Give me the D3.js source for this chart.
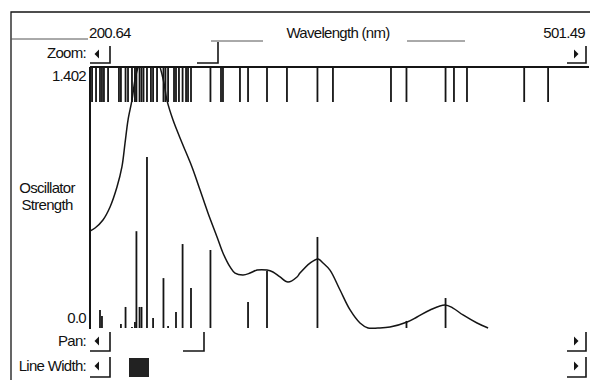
<!DOCTYPE html>
<html>
<head>
<meta charset="utf-8">
<script src="https://cdn.jsdelivr.net/npm/d3@7"></script>
<style>
  html, body { margin: 0; padding: 0; background: #fff; }
  svg text { font-family: "Liberation Sans", Arial, sans-serif; font-size: 15px; letter-spacing: -0.7px; fill: #111; }
</style>
</head>
<body>
<svg id="chart" width="590" height="380"></svg>
<script>
// transitions: wavelength (nm) and oscillator strength
const transWl = [200.9, 201.9, 204.3, 206.7, 207.9, 209.1, 211.6, 218.2, 219.4, 222.2, 223.7, 226.1, 227.9, 228.8,
                 230.7, 231.9, 233.1, 235.2, 237.6, 238.9, 241.3, 245.2, 246.4, 248.0, 251.6, 252.8, 254.6, 256.8,
                 258.9, 260.1, 261.9, 273.7, 280.1, 281.3, 291.6, 296.5, 308.0, 320.1, 338.6, 348.0, 383.2, 392.6,
                 416.3, 421.4, 429.3, 464.0, 478.5];
const transF  = [0, 0, 0, 0.097, 0.064, 0, 0, 0, 0.021, 0.113, 0, 0.005, 0.032, 0.52,
                 0.113, 0.113, 0, 0.918, 0, 0.054, 0, 0.268, 0, 0.011, 0, 0.086, 0, 0.451,
                 0, 0, 0.215, 0.419, 0, 0, 0, 0.14, 0.306, 0, 0.489, 0, 0, 0.038,
                 0.161, 0, 0, 0, 0];

// broadened spectrum envelope
const curveWl = [200.64, 203.7, 208.5, 212.8, 217.0, 220.0, 221.9, 223.7, 226.1, 227.9, 229.8, 236.4, 243.1, 245.5,
                 247.3, 251.0, 256.5, 262.5, 267.4, 272.2, 277.7, 281.3, 285.6, 288.6, 293.5, 297.7, 302.0, 308.0,
                 311.6, 315.9, 320.7, 326.2, 328.0, 334.1, 339.0, 342.0, 346.2, 352.3, 358.4, 364.4, 369.3, 375.3,
                 382.6, 393.0, 399.0, 406.9, 416.0, 420.8, 426.9, 435.4, 442.1];
const curveF  = [0.521, 0.537, 0.580, 0.650, 0.757, 0.865, 0.994, 1.117, 1.224, 1.332, 1.402, 1.56, 1.402, 1.316,
                 1.224, 1.117, 0.994, 0.865, 0.741, 0.618, 0.489, 0.403, 0.328, 0.295, 0.285, 0.295, 0.311, 0.311,
                 0.301, 0.274, 0.247, 0.274, 0.295, 0.349, 0.371, 0.349, 0.311, 0.204, 0.097, 0.027, 0.0, 0.0,
                 0.005, 0.032, 0.059, 0.097, 0.124, 0.107, 0.070, 0.027, 0.0];

const wlRange = [200.64, 501.49];
const fMax = 1.402;

const svg = d3.select("#chart");
const x = d3.scaleLinear().domain(wlRange).range([90, 586]);
const y = d3.scaleLinear().domain([0, fMax]).range([328, 67]);
const ink = "#151515";

// outer frame
svg.append("path").attr("d", "M11,380 V12 H590").attr("fill", "none").attr("stroke", ink).attr("stroke-width", 1.3);

// wavelength header
svg.append("text").attr("x", x(wlRange[0]) - 1).attr("y", 38).text(d3.format(".2f")(wlRange[0]));
svg.append("text").attr("x", x(wlRange[1]) - 1).attr("y", 38).attr("text-anchor", "end").text(d3.format(".2f")(wlRange[1]));
svg.append("text").attr("x", 338).attr("y", 38).attr("text-anchor", "middle").text("Wavelength (nm)");
[[11, 88, 39], [211, 263, 41], [407, 465, 41]].forEach(s =>
    svg.append("line").attr("x1", s[0]).attr("x2", s[1]).attr("y1", s[2]).attr("y2", s[2])
        .attr("stroke", "#555").attr("stroke-width", 1));

// scrollbar bits
function arrow(cx, cy, dir) {
    svg.append("path")
        .attr("d", dir < 0 ? `M${cx-2.5},${cy} L${cx+2},${cy-4.5} L${cx+2},${cy+4.5}Z` : `M${cx+2.5},${cy} L${cx-2},${cy-4.5} L${cx-2},${cy+4.5}Z`)
        .attr("fill", ink);
}
function bevel(x0, x1, yTop, yBot) {
    svg.append("path").attr("d", `M${x1},${yTop} V${yBot} H${x0}`).attr("fill", "none")
        .attr("stroke", ink).attr("stroke-width", 1.6);
}
const rows = [
    { label: "Zoom:", base: 58, mid: 54, top: 46, bot: 63, thumb: [197, 218, 42] },
    { label: "Pan:", base: 346, mid: 341, top: 332, bot: 351, thumb: [183, 204, 332] },
    { label: "Line Width:", base: 371, mid: 366, top: 357, bot: 377, thumb: null }
];
rows.forEach(r => {
    svg.append("text").attr("x", 86).attr("y", r.base).attr("text-anchor", "end").text(r.label);
    arrow(97, r.mid, -1);
    bevel(90, 110, r.top, r.bot);
    arrow(576, r.mid, 1);
    bevel(567, 586, r.top, r.bot);
    if (r.thumb) bevel(r.thumb[0], r.thumb[1], r.thumb[2], r.bot);
});
svg.append("rect").attr("x", 129).attr("y", 358).attr("width", 20).attr("height", 19).attr("fill", "#222");

// axes
svg.append("line").attr("x1", x(wlRange[0])).attr("x2", 589).attr("y1", y(fMax)).attr("y2", y(fMax))
    .attr("stroke", ink).attr("stroke-width", 2);
svg.append("line").attr("x1", x(wlRange[0])).attr("x2", x(wlRange[0])).attr("y1", y(fMax)).attr("y2", y(0) + 1)
    .attr("stroke", ink).attr("stroke-width", 2);
svg.append("text").attr("x", 86).attr("y", y(fMax) + 14).attr("text-anchor", "end").text(d3.format(".3f")(fMax));
svg.append("text").attr("x", 86).attr("y", y(0) - 5).attr("text-anchor", "end").text(d3.format(".1f")(0));
svg.append("text").attr("x", 47).attr("y", 193).attr("text-anchor", "middle").text("Oscillator");
svg.append("text").attr("x", 47).attr("y", 210).attr("text-anchor", "middle").text("Strength");

// transition markers along the top
const trans = transWl.map((w, i) => ({ w, f: transF[i] }));
svg.append("g").selectAll("line").data(trans).enter().append("line")
    .attr("x1", d => x(d.w)).attr("x2", d => x(d.w))
    .attr("y1", y(fMax)).attr("y2", y(fMax) + 35)
    .attr("stroke", ink).attr("stroke-width", 1.8);

// sticks
svg.append("g").selectAll("line").data(trans.filter(d => d.f > 0)).enter().append("line")
    .attr("x1", d => x(d.w)).attr("x2", d => x(d.w))
    .attr("y1", y(0)).attr("y2", d => y(d.f))
    .attr("stroke", ink).attr("stroke-width", 1.8);

// envelope, clipped to plot area
svg.append("clipPath").attr("id", "plotclip").append("rect")
    .attr("x", x(wlRange[0])).attr("y", y(fMax)).attr("width", x(wlRange[1]) - x(wlRange[0])).attr("height", y(0) - y(fMax) + 2);
const curve = curveWl.map((w, i) => ({ w, f: curveF[i] }));
svg.append("path").datum(curve)
    .attr("clip-path", "url(#plotclip)")
    .attr("fill", "none").attr("stroke", ink).attr("stroke-width", 1.5)
    .attr("d", d3.line().x(d => x(d.w)).y(d => y(d.f)).curve(d3.curveCatmullRom));
</script>
</body>
</html>
